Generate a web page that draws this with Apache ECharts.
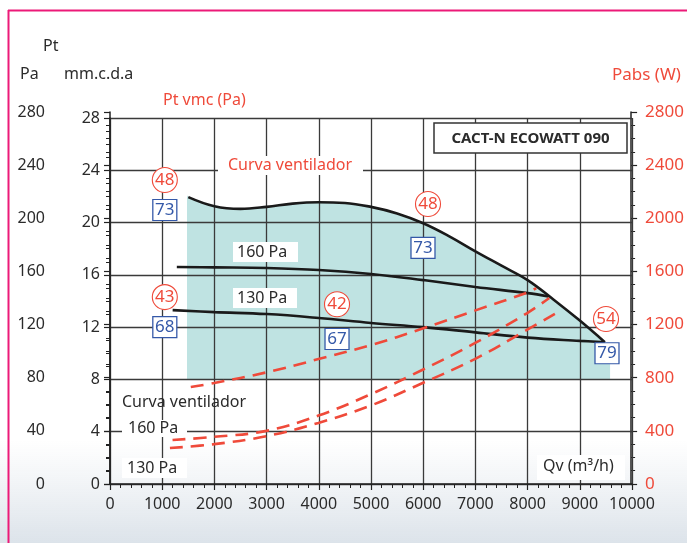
<!DOCTYPE html>
<html>
<head>
<meta charset="utf-8">
<script src="https://cdn.jsdelivr.net/npm/echarts@6/dist/echarts.min.js"></script>
<style>
html,body{margin:0;padding:0;background:#fff;}
#c{width:687px;height:543px;}
</style>
</head>
<body>
<div id="c"></div>
<script>
// ---- Data ----
const xTicks = [0,1000,2000,3000,4000,5000,6000,7000,8000,9000,10000];
// Fan curve (mm.c.d.a)
const fanQv = [1500,2000,2500,3000,3500,4000,4500,5000,5500,6000,6500,7000,7500,8000,8500,9000,9480];
const fanMm = [21.95,21.25,21.05,21.2,21.45,21.55,21.5,21.2,20.7,19.95,18.95,17.8,16.7,15.6,14.1,12.5,10.85];
// 160 Pa curve
const p160Qv = [1280,2000,3000,4000,5000,6000,7000,8000,8400];
const p160Mm = [16.6,16.57,16.52,16.37,16.07,15.6,15.07,14.6,14.35];
// 130 Pa curve
const p130Qv = [1200,2000,3000,4000,5000,6000,7000,8000,9000,9480];
const p130Mm = [13.3,13.15,13.0,12.7,12.32,12.0,11.6,11.2,10.95,10.85];
// Teal operating area limits
const areaLeft = [1475,22.1];
const areaRight = [9580,10.7];
const areaBottom = 8;
// Absorbed power curves (W)
const powFanQv = [1550,2000,3000,4000,5000,6000,7000,8000,8180];
const powFanW  = [730,760,840,940,1045,1170,1305,1440,1475];
const pow160Qv = [1200,2000,3000,4000,5000,6000,7000,8000,8430];
const pow160W  = [331,355,400,515,675,860,1060,1285,1400];
const pow130Qv = [1150,2000,3000,4000,5000,6000,7000,8000,8620];
const pow130W  = [271,300,360,460,590,760,940,1160,1300];
// Annotations: red circles and blue squares (Qv, mm, value)
const circleMarks = [[1050,23.26,48],[1050,14.3,43],[4349,13.75,42],[6092,21.42,48],[9502,12.62,54]];
const squareMarks = [[1050,20.96,73],[1050,12.0,68],[4349,11.09,67],[5996,18.06,73],[9521,10.0,79]];

const pairs = (xs, ys) => xs.map((x,i)=>[x, ys[i]]);
const FONT = 'Noto Sans';
const TXT = '#2b2b2b';
const RED = '#ef4a3a';
const BLUE = '#3458a8';
const GRID = '#3a3a3a';
const plain = v => String(v);

const chart = echarts.init(document.getElementById('c'), null, {renderer:'canvas'});

const fillData = [areaLeft].concat(pairs(fanQv, fanMm)).concat([areaRight]);

const txt = (x, y, text, opts={}) => Object.assign({
  type:'text', x, y, z:20,
  style: Object.assign({text, fill:TXT, font:`15px "${FONT}"`, textVerticalAlign:'middle'}, opts)
});
const whiteRect = (x1,y1,x2,y2) => ({type:'rect', z:15, shape:{x:x1,y:y1,width:x2-x1,height:y2-y1}, style:{fill:'#fff'}});

const option = {
  animation:false,
  textStyle:{fontFamily:FONT},
  grid:[
    {left:110, right:55, top:118, bottom:59},
    {left:110, right:55, top:112, bottom:59}
  ],
  xAxis:[
    {gridIndex:0, type:'value', min:0, max:10000, interval:1000, z:2,
     axisLine:{lineStyle:{color:'#222', width:1.5}},
     axisTick:{length:6, lineStyle:{color:'#222', width:1.2}},
     minorTick:{show:true, splitNumber:5, length:4, lineStyle:{color:'#222', width:1}},
     axisLabel:{fontSize:16, color:TXT, margin:12, fontFamily:FONT, formatter:plain},
     splitLine:{show:true, lineStyle:{color:GRID, width:1.3}}},
    {gridIndex:1, type:'value', min:0, max:10000, show:false}
  ],
  yAxis:[
    {gridIndex:0, type:'value', min:0, max:28, interval:4, position:'left', z:2,
     axisLine:{show:true, lineStyle:{color:'#222', width:1.5}},
     axisTick:{show:true, length:6, lineStyle:{color:'#222', width:1.2}},
     minorTick:{show:true, splitNumber:4, length:4, lineStyle:{color:'#222', width:1}},
     axisLabel:{fontSize:16, color:TXT, margin:10, fontFamily:FONT, formatter:plain},
     splitLine:{show:true, lineStyle:{color:GRID, width:1.3}}},
    {gridIndex:1, type:'value', min:0, max:280, interval:40, position:'left', offset:55,
     axisLine:{show:true, lineStyle:{color:'#222', width:1.5}},
     axisTick:{show:true, length:6, lineStyle:{color:'#222', width:1.2}},
     minorTick:{show:true, splitNumber:4, length:4, lineStyle:{color:'#222', width:1}},
     axisLabel:{fontSize:16, color:TXT, margin:10, fontFamily:FONT, formatter:plain},
     splitLine:{show:false}},
    {gridIndex:1, type:'value', min:0, max:2800, interval:400, position:'right',
     axisLine:{show:true, lineStyle:{color:'#222', width:1.5}},
     axisTick:{show:true, length:6, lineStyle:{color:'#222', width:1.2}},
     minorTick:{show:true, splitNumber:4, length:4, lineStyle:{color:'#222', width:1}},
     axisLabel:{fontSize:17, color:RED, margin:14, fontFamily:FONT, formatter:plain},
     splitLine:{show:false}}
  ],
  series:[
    {type:'line', name:'area', xAxisIndex:0, yAxisIndex:0, data:fillData, smooth:0.4, symbol:'none', z:1,
     lineStyle:{width:0}, areaStyle:{color:'#bfe3e2', opacity:1, origin:areaBottom}, silent:true},
    {type:'line', name:'fan', xAxisIndex:0, yAxisIndex:0, data:pairs(fanQv,fanMm), smooth:0.4, symbol:'none', z:5,
     lineStyle:{color:'#1a1a1a', width:2.6}},
    {type:'line', name:'160', xAxisIndex:0, yAxisIndex:0, data:pairs(p160Qv,p160Mm), smooth:0.4, symbol:'none', z:5,
     lineStyle:{color:'#1a1a1a', width:2.6}},
    {type:'line', name:'130', xAxisIndex:0, yAxisIndex:0, data:pairs(p130Qv,p130Mm), smooth:0.4, symbol:'none', z:5,
     lineStyle:{color:'#1a1a1a', width:2.6}},
    {type:'line', name:'pf', xAxisIndex:1, yAxisIndex:2, data:pairs(powFanQv,powFanW), smooth:0.4, symbol:'none', z:5,
     lineStyle:{color:RED, width:2.6, type:[13,8]}},
    {type:'line', name:'p160', xAxisIndex:1, yAxisIndex:2, data:pairs(pow160Qv,pow160W), smooth:0.4, symbol:'none', z:5,
     lineStyle:{color:RED, width:2.6, type:[13,8]}},
    {type:'line', name:'p130', xAxisIndex:1, yAxisIndex:2, data:pairs(pow130Qv,pow130W), smooth:0.4, symbol:'none', z:5,
     lineStyle:{color:RED, width:2.6, type:[13,8]}},
    {type:'scatter', xAxisIndex:0, yAxisIndex:0, data:circleMarks, symbol:'circle', symbolSize:25, z:8,
     itemStyle:{color:'#fff', borderColor:RED, borderWidth:1.1, opacity:1},
     label:{show:true, position:'inside', formatter:p=>p.value[2], color:RED, fontSize:17, fontFamily:FONT}},
    {type:'scatter', xAxisIndex:0, yAxisIndex:0, data:squareMarks, symbol:'rect', symbolSize:[24,21], z:8,
     itemStyle:{color:'#fff', borderColor:BLUE, borderWidth:1.2, opacity:1},
     label:{show:true, position:'inside', formatter:p=>p.value[2], color:BLUE, fontSize:17, fontFamily:FONT}}
  ],
  graphic:[
    {type:'rect', z:-1, shape:{x:0,y:440,width:687,height:103},
     style:{fill:new echarts.graphic.LinearGradient(0,0,0,1,[{offset:0,color:'rgba(226,231,236,0)'},{offset:1,color:'rgba(220,227,234,1)'}])}},
    {type:'line', z:30, shape:{x1:8.5,y1:10,x2:8.5,y2:543}, style:{stroke:'#ec1a78', lineWidth:2}},
    {type:'line', z:30, shape:{x1:8,y1:10.5,x2:687,y2:10.5}, style:{stroke:'#ec1a78', lineWidth:2}},
    txt(43,46,'Pt',{font:`16px "${FONT}"`}),
    txt(20,74,'Pa',{font:`16px "${FONT}"`}),
    txt(64,74,'mm.c.d.a',{font:`16px "${FONT}"`}),
    txt(163,100,'Pt vmc (Pa)',{fill:RED, font:`16px "${FONT}"`}),
    txt(612,75,'Pabs (W)',{fill:RED, font:`17px "${FONT}"`}),
    {type:'rect', z:15, shape:{x:434,y:123,width:193,height:30}, style:{fill:'#fff', stroke:'#333', lineWidth:1.5}},
    txt(530.5,138.5,'CACT-N ECOWATT 090',{font:`bold 15px "${FONT}"`, textAlign:'center'}),
    whiteRect(218,156,363,175),
    txt(228,165,'Curva ventilador',{fill:RED, font:`16px "${FONT}"`}),
    whiteRect(233,242,298,262),
    txt(237,252,'160 Pa',{font:`16px "${FONT}"`}),
    whiteRect(233,288,297,308),
    txt(237,298,'130 Pa',{font:`16px "${FONT}"`}),
    txt(122,402,'Curva ventilador',{font:`16px "${FONT}"`}),
    whiteRect(122,420,187,437),
    txt(128,428,'160 Pa',{font:`16px "${FONT}"`}),
    whiteRect(122,458,187,478),
    txt(127,468,'130 Pa',{font:`16px "${FONT}"`}),
    whiteRect(537,455,625,480),
    txt(543,466,'Qv (m³/h)',{font:`16px "${FONT}"`})
  ]
};
chart.setOption(option);
</script>
</body>
</html>
